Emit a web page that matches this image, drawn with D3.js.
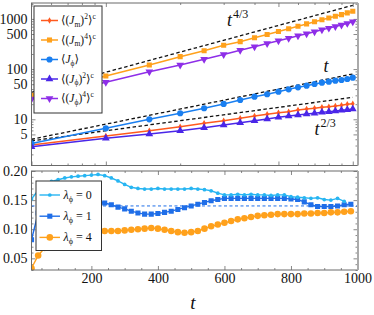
<!DOCTYPE html>
<html><head><meta charset="utf-8">
<script src="https://cdn.jsdelivr.net/npm/d3@7"></script>
<style>
body{margin:0;background:#fff}
svg{display:block}
text{font-family:"Liberation Serif","DejaVu Serif",serif;fill:#111}
</style>
</head><body><svg id="c" width="374" height="315"></svg>
<script>
// ---------- DATA: top panel (log-log) ----------
const tTop = [50,100,150,200,250,300,350,400,450,500,550,600,650,700,750,800,850,900,950,1000];
const jm2  = [3.07,4.65,5.93,7.13,8.32,9.38,10.5,11.6,12.6,13.5,14.2,15.3,16.0,16.6,17.3,17.8,18.4,19.0,19.9,20.5];
const jm4  = [30,73,121,177,232,298,352,420,490,560,635,715,795,875,960,1045,1130,1220,1320,1420];
const jphi = [3.3,6.6,10.0,13.2,16.6,20.2,24.2,28.2,31.5,35.5,39.6,43.4,46.7,50.5,53.6,56.1,58.8,60.7,63.5,67.5];
const jphi2= [2.84,4.18,5.09,5.93,6.81,7.70,8.55,9.38,10.1,11.0,11.6,12.2,12.8,13.2,13.8,14.2,14.6,15.1,15.5,16.0];
const jphi4= [25.4,54.6,88.7,121,157,195,238,280,324,368,413,460,508,557,606,655,706,758,815,879];
const seriesNames = ["⟨(J_m)^2⟩^c","⟨(J_m)^4⟩^c","⟨J_ϕ⟩","⟨(J_ϕ)^2⟩^c","⟨(J_ϕ)^4⟩^c"];
// reference power-law guides (end points)
const refT   = [50,1000];
const ref43  = [34.4,1866];
const ref1   = [4.0,80];
const ref23  = [3.72,27.4];
const refLabels = ["4/3","","2/3"];
const yTickLabels = [5,10,50,100,500,1000];

// ---------- DATA: bottom panel ----------
const tL0 = [20,40,60,80,100,120,140,160,180,200,220,240,260,280,300,320,340,360,380,400,420,440,460,480,500,520,540,560,580,600,620,640,660,680,700,720,740,760,780,800,820,840,860,880,900,920,940,960];
const lam0 = [0.152,0.167,0.176,0.182,0.185,0.188,0.190,0.191,0.192,0.193,0.194,0.192,0.188,0.183,0.177,0.172,0.170,0.169,0.169,0.170,0.169,0.169,0.169,0.169,0.170,0.169,0.168,0.166,0.162,0.159,0.159,0.160,0.159,0.160,0.159,0.159,0.158,0.159,0.159,0.156,0.155,0.154,0.153,0.154,0.151,0.150,0.153,0.148];
const tL1 = [20,40,60,80,100,120,140,160,180,200,220,240,260,280,300,320,340,360,380,400,420,440,460,480,500,520,540,560,580,600,620,640,660,680,700,720,740,760,780,800,820,840,860,880,900,920,940,960,980];
const lam1 = [0.082,0.128,0.136,0.141,0.144,0.146,0.147,0.147,0.147,0.146,0.146,0.145,0.142,0.138,0.135,0.131,0.128,0.126,0.126,0.127,0.129,0.131,0.134,0.137,0.140,0.143,0.146,0.149,0.151,0.153,0.153,0.153,0.153,0.153,0.153,0.153,0.153,0.153,0.153,0.152,0.151,0.147,0.142,0.139,0.139,0.139,0.140,0.142,0.143];
const tL4 = tL1;
const lam4 = [0.033,0.055,0.068,0.078,0.085,0.089,0.092,0.094,0.095,0.096,0.097,0.097,0.097,0.097,0.098,0.099,0.100,0.101,0.102,0.101,0.099,0.097,0.095,0.094,0.095,0.097,0.101,0.105,0.108,0.111,0.114,0.117,0.119,0.121,0.123,0.124,0.125,0.126,0.126,0.126,0.126,0.127,0.127,0.128,0.128,0.129,0.129,0.130,0.131];
const lamLabels = ["0","1","4"];
const hLine = [0.14];
const xTickLabels = [200,400,600,800,1000];

// ---------- LAYOUT ----------
const L=31.5, R=357.5, T1=3, B1=165.5, T2=171, B2=270;
const svg = d3.select("#c");
const frameCol="#6a6a6a";

const xTop = d3.scaleLog().domain([50,1045]).range([L,R]);
const yTop = d3.scaleLog().domain([1.2,2075]).range([B1,T1]);
const xBot = d3.scaleLinear().domain([20,1000]).range([L,R]);
const yBot = d3.scaleLinear().domain([0.03,0.20]).range([B2,T2]);

const defs = svg.append("defs");
defs.append("clipPath").attr("id","cTop").append("rect").attr("x",L).attr("y",T1).attr("width",R-L).attr("height",B1-T1);
defs.append("clipPath").attr("id","cBot").append("rect").attr("x",L).attr("y",T2).attr("width",R-L).attr("height",B2-T2);

function styleAxis(g){
  g.select(".domain").remove();
  g.selectAll(".tick line").attr("stroke",frameCol).attr("stroke-width",0.8);
  g.selectAll("text").attr("font-size",14).attr("font-family","Liberation Serif").attr("fill","#111");
}
function logMinor(lo,hi){
  const out=[];
  for(let e=0;e<=4;e++){for(let m=1;m<10;m++){const v=m*Math.pow(10,e);if(v>=lo&&v<=hi)out.push(v);}}
  return out;
}
// ---- top panel axes
const yMinor = logMinor(1.2,2075).filter(v=>!yTickLabels.includes(v));
const xTopMajor=[50,100,500,1000];
const xTopMinor=logMinor(50,1045).filter(v=>!xTopMajor.includes(v));
svg.append("g").attr("transform",`translate(${L},0)`).call(d3.axisLeft(yTop).tickValues(yTickLabels).tickFormat(d3.format("d")).tickSize(-4).tickPadding(4)).call(styleAxis);
svg.append("g").attr("transform",`translate(${L},0)`).call(d3.axisLeft(yTop).tickValues(yMinor).tickFormat("").tickSize(-2)).call(styleAxis);
svg.append("g").attr("transform",`translate(${R},0)`).call(d3.axisRight(yTop).tickValues(yTickLabels).tickFormat("").tickSize(-4)).call(styleAxis);
svg.append("g").attr("transform",`translate(${R},0)`).call(d3.axisRight(yTop).tickValues(yMinor).tickFormat("").tickSize(-2)).call(styleAxis);
svg.append("g").attr("transform",`translate(0,${B1})`).call(d3.axisBottom(xTop).tickValues(xTopMajor).tickFormat("").tickSize(-4)).call(styleAxis);
svg.append("g").attr("transform",`translate(0,${B1})`).call(d3.axisBottom(xTop).tickValues(xTopMinor).tickFormat("").tickSize(-2)).call(styleAxis);
svg.append("g").attr("transform",`translate(0,${T1})`).call(d3.axisTop(xTop).tickValues(xTopMajor).tickFormat("").tickSize(-4)).call(styleAxis);
svg.append("g").attr("transform",`translate(0,${T1})`).call(d3.axisTop(xTop).tickValues(xTopMinor).tickFormat("").tickSize(-2)).call(styleAxis);

// ---- bottom panel axes
const yBotMajor=[0.05,0.10,0.15,0.20];
const yBotMinor=[0.03,0.04,0.06,0.07,0.08,0.09,0.11,0.12,0.13,0.14,0.16,0.17,0.18,0.19];
const xBotMinor=[50,100,150,250,300,350,450,500,550,650,700,750,850,900,950];
svg.append("g").attr("transform",`translate(${L},0)`).call(d3.axisLeft(yBot).tickValues(yBotMajor).tickFormat(d3.format(".2f")).tickSize(-4).tickPadding(4)).call(styleAxis);
svg.append("g").attr("transform",`translate(${L},0)`).call(d3.axisLeft(yBot).tickValues(yBotMinor).tickFormat("").tickSize(-2)).call(styleAxis);
svg.append("g").attr("transform",`translate(${R},0)`).call(d3.axisRight(yBot).tickValues(yBotMajor).tickFormat("").tickSize(-4)).call(styleAxis);
svg.append("g").attr("transform",`translate(${R},0)`).call(d3.axisRight(yBot).tickValues(yBotMinor).tickFormat("").tickSize(-2)).call(styleAxis);
svg.append("g").attr("transform",`translate(0,${B2})`).call(d3.axisBottom(xBot).tickValues(xTickLabels).tickFormat(d3.format("d")).tickSize(-4).tickPadding(3.5)).call(styleAxis);
svg.append("g").attr("transform",`translate(0,${B2})`).call(d3.axisBottom(xBot).tickValues(xBotMinor).tickFormat("").tickSize(-2)).call(styleAxis);
svg.append("g").attr("transform",`translate(0,${T2})`).call(d3.axisTop(xBot).tickValues(xTickLabels).tickFormat("").tickSize(-4)).call(styleAxis);
svg.append("g").attr("transform",`translate(0,${T2})`).call(d3.axisTop(xBot).tickValues(xBotMinor).tickFormat("").tickSize(-2)).call(styleAxis);

// ---- top panel content
const gTop = svg.append("g").attr("clip-path","url(#cTop)");
const refs=[ref43,ref1,ref23];
const lineTop = d3.line().x(d=>xTop(d[0])).y(d=>yTop(d[1]));
refs.forEach(r=>{
  gTop.append("path").attr("d",lineTop(refT.map((t,i)=>[t,r[i]])))
    .attr("fill","none").attr("stroke","#111").attr("stroke-width",1.3).attr("stroke-dasharray","3.5,2.5");
});
const topCols=["#ff5a1f","#ffa11c","#1a7ff0","#4a26e8","#8e2ee8"];
const topVals=[jm2,jm4,jphi,jphi2,jphi4];
const topSym=[
  {t:d3.symbolDiamond,s:12,r:0},
  {t:d3.symbolSquare,s:26,r:0},
  {t:d3.symbolCircle,s:30,r:0},
  {t:d3.symbolTriangle,s:26,r:0},
  {t:d3.symbolTriangle,s:26,r:180}
];
topVals.forEach((vals,k)=>{
  const pts=tTop.map((t,i)=>[t,vals[i]]);
  gTop.append("path").attr("d",lineTop(pts)).attr("fill","none").attr("stroke",topCols[k]).attr("stroke-width",1.5);
  gTop.selectAll(null).data(pts).enter().append("path")
    .attr("d",d3.symbol().type(topSym[k].t).size(topSym[k].s))
    .attr("transform",d=>`translate(${xTop(d[0])},${yTop(d[1])}) rotate(${topSym[k].r})`)
    .attr("fill",topCols[k]);
});
// guide labels
function powLabel(x,y,exp){
  const t=svg.append("text").attr("x",x).attr("y",y).attr("font-size",18).attr("font-style","italic").text("t");
  if(exp) t.append("tspan").attr("dy",-8).attr("dx",1).attr("font-size",12).attr("font-style","normal").text(exp);
}
powLabel(227,26,refLabels[0]);
powLabel(323.5,72,refLabels[1]);
powLabel(314.5,135,refLabels[2]);

// ---- top legend
const lg = svg.append("g");
lg.append("rect").attr("x",34).attr("y",6).attr("width",68).attr("height",107).attr("fill","#fff").attr("stroke","#333").attr("stroke-width",1);
const legParts=[
  [["⟨(",0],["J",1],["m",2],[")",0],["2",3],["⟩",0],["c",3]],
  [["⟨(",0],["J",1],["m",2],[")",0],["4",3],["⟩",0],["c",3]],
  [["⟨",0],["J",1],["ϕ",2],["⟩",0]],
  [["⟨(",0],["J",1],["ϕ",2],[")",0],["2",3],["⟩",0],["c",3]],
  [["⟨(",0],["J",1],["ϕ",2],[")",0],["4",3],["⟩",0],["c",3]]
];
seriesNames.forEach((nm,k)=>{
  const y=20.5+k*19.5;
  lg.append("line").attr("x1",41).attr("x2",58).attr("y1",y).attr("y2",y).attr("stroke",topCols[k]).attr("stroke-width",1.5);
  lg.append("path").attr("d",d3.symbol().type(topSym[k].t).size(topSym[k].s)).attr("transform",`translate(49.5,${y}) rotate(${topSym[k].r})`).attr("fill",topCols[k]);
  const tx=lg.append("text").attr("x",61).attr("y",y+3.8).attr("font-size",11.5).attr("data-label",nm);
  let shift=0;
  legParts[k].forEach(([s,kind])=>{
    const sp=tx.append("tspan").text(s);
    let target=0;
    if(kind===1){sp.attr("font-style","italic");}
    if(kind===2){sp.attr("font-size",7.5);target=2.5;}
    if(kind===3){sp.attr("font-size",7.5);target=-5;}
    sp.attr("dy",target-shift); shift=target;
  });
});

// ---- bottom panel content
const gBot = svg.append("g").attr("clip-path","url(#cBot)");
gBot.append("line").attr("x1",L).attr("x2",R).attr("y1",yBot(hLine[0])).attr("y2",yBot(hLine[0]))
  .attr("stroke","#1f6fe8").attr("stroke-width",1).attr("stroke-dasharray","3,2.5");
const botCols=["#27b5f2","#1f6ee8","#ffa11c"];
const botT=[tL0,tL1,tL4], botV=[lam0,lam1,lam4];
const botSym=[{t:d3.symbolCircle,s:11},{t:d3.symbolSquare,s:26},{t:d3.symbolCircle,s:34}];
const lineBot=d3.line().x(d=>xBot(d[0])).y(d=>yBot(d[1]));
[2,1,0].forEach(k=>{
  const pts=botT[k].map((t,i)=>[t,botV[k][i]]);
  gBot.append("path").attr("d",lineBot(pts)).attr("fill","none").attr("stroke",botCols[k]).attr("stroke-width",1.4);
  gBot.selectAll(null).data(pts).enter().append("path")
    .attr("d",d3.symbol().type(botSym[k].t).size(botSym[k].s))
    .attr("transform",d=>`translate(${xBot(d[0])},${yBot(d[1])})`).attr("fill",botCols[k]);
});
// bottom legend
const lb=svg.append("g");
lb.append("rect").attr("x",36).attr("y",181).attr("width",65.5).attr("height",69.5).attr("fill","#fff").attr("stroke","#333").attr("stroke-width",1);
lamLabels.forEach((v,k)=>{
  const y=195+k*21.2;
  lb.append("line").attr("x1",39.5).attr("x2",60).attr("y1",y).attr("y2",y).attr("stroke",botCols[k]).attr("stroke-width",1.4);
  lb.append("path").attr("d",d3.symbol().type(botSym[k].t).size(botSym[k].s)).attr("transform",`translate(49.8,${y})`).attr("fill",botCols[k]);
  const tx=lb.append("text").attr("x",63.5).attr("y",y+4).attr("font-size",12);
  tx.append("tspan").attr("font-style","italic").text("λ");
  tx.append("tspan").attr("font-size",8).attr("dy",2.5).text("ϕ");
  tx.append("tspan").attr("dy",-2.5).text(" = "+v);
});

// frames
[[T1,B1],[T2,B2]].forEach(([a,b])=>{
  svg.append("rect").attr("x",L).attr("y",a).attr("width",R-L).attr("height",b-a).attr("fill","none").attr("stroke",frameCol).attr("stroke-width",1);
  svg.append("line").attr("x1",R+0.5).attr("x2",R+0.5).attr("y1",a).attr("y2",b).attr("stroke","#aaa").attr("stroke-width",2);
});
// axis title
svg.append("text").attr("x",193).attr("y",309).attr("text-anchor","middle").attr("font-size",19).attr("font-style","italic").text("t");
</script>
</body></html>
